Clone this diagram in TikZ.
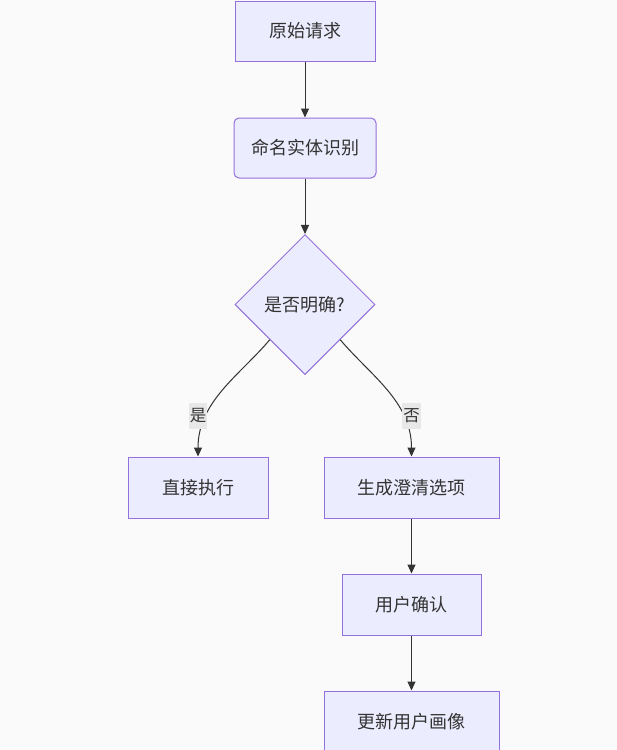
\documentclass[tikz,border=0pt]{standalone}
\usepackage{fontspec}
\setmainfont{Noto Sans CJK SC}
\usetikzlibrary{shapes.geometric,arrows.meta}
\definecolor{bgc}{HTML}{FAFAFA}
\definecolor{nodefill}{HTML}{ECECFF}
\definecolor{nodeline}{HTML}{9370DB}
\definecolor{txt}{HTML}{333333}
\definecolor{lblbg}{HTML}{E8E8E8}
\tikzset{
  box/.style={draw=nodeline, fill=nodefill, line width=1pt, text=txt, inner sep=0pt,
    font=\fontsize{18}{21}\selectfont, minimum height=61pt},
  decision/.style={diamond, aspect=1, draw=nodeline, fill=nodefill, line width=1pt, text=txt,
    inner sep=0pt, minimum size=140pt, font=\fontsize{18}{21}\selectfont},
  lbl/.style={fill=lblbg, text=txt, inner sep=1pt, minimum width=18pt, minimum height=26pt,
    font=\fontsize{16.5}{18}\selectfont},
  conn/.style={draw=txt, line width=1pt, -{Triangle[length=9pt,width=8pt]}}
}
\begin{document}
\begin{tikzpicture}[x=1pt,y=-1pt]
\useasboundingbox[fill=bgc] (0,0) rectangle (617,750);
\node[box, minimum width=140pt, minimum height=60pt] (a) at (305,31) {原始请求};
\node[box, minimum width=142pt, minimum height=60pt, rounded corners=5pt] (b) at (305,148) {命名实体识别};
\node[decision] (d) at (305,304.5) {是否明确?};
\node[box, minimum width=140pt] (c1) at (198,487.5) {直接执行};
\node[box, minimum width=175pt] (c2) at (411.5,487.5) {生成澄清选项};
\node[box, minimum width=139pt] (e) at (411.5,604.5) {用户确认};
\node[box, minimum width=175pt] (f) at (411.5,721.5) {更新用户画像};
\draw[conn] (a) -- (b);
\draw[conn] (b) -- (d);
\draw[conn] (d.south west) .. controls +(-30,35.5) and +(0,-55) .. (c1.north);
\draw[conn] (d.south east) .. controls +(30,35.5) and +(0,-55) .. (c2.north);
\draw[conn] (c2) -- (e);
\draw[conn] (e) -- (f);
\node[lbl] (ly) at (198,416) {是};
\node[lbl] (ln) at (411.5,416) {否};
\end{tikzpicture}
\end{document}
